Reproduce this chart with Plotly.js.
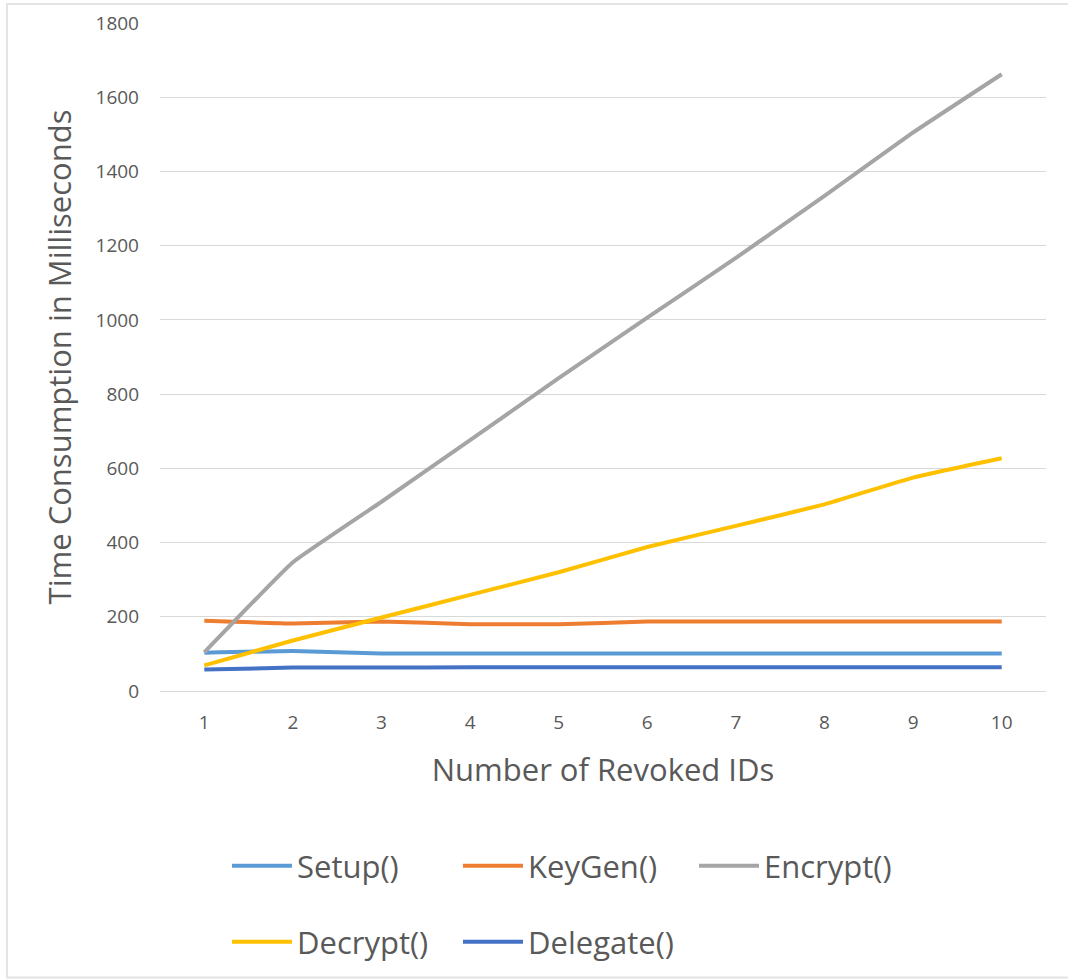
<!DOCTYPE html>
<html>
<head>
<meta charset="utf-8">
<script src="https://cdn.plot.ly/plotly-3.0.1.min.js"></script>
<style>
  html, body { margin: 0; padding: 0; background: #ffffff; }
  #chart { width: 1068px; height: 980px; }
</style>
</head>
<body>
<div id="chart"></div>
<script>
// ---- data ----
const revokedIds = ['1', '2', '3', '4', '5', '6', '7', '8', '9', '10'];
const setupMs    = [103, 108, 101, 101, 101, 101, 101, 101, 101, 101];
const keyGenMs   = [189, 182, 187, 180, 180, 187, 187, 187, 187, 187];
const encryptMs  = [104, 347, 510, 676, 843, 1006, 1167, 1334, 1505, 1662];
const decryptMs  = [69, 136, 198, 259, 320, 388, 445, 503, 575, 627];
const delegateMs = [58, 63, 63, 64, 64, 64, 64, 64, 64, 64];
const seriesNames = ['Setup()', 'KeyGen()', 'Encrypt()', 'Decrypt()', 'Delegate()'];
const yTickVals = [0, 200, 400, 600, 800, 1000, 1200, 1400, 1600, 1800];

// ---- styling ----
const colors = ['#5B9BD5', '#ED7D31', '#A5A5A5', '#FFC000', '#4472C4'];
const seriesValues = [setupMs, keyGenMs, encryptMs, decryptMs, delegateMs];
const legendIds = ['legend', 'legend2', 'legend3', 'legend4', 'legend5'];
const textColor = '#595959';
const FONT = 'Open Sans, Arial, sans-serif';

const traces = seriesNames.map((name, i) => ({
  type: 'scatter',
  mode: 'lines',
  name: name,
  x: revokedIds,
  y: seriesValues[i],
  line: { color: colors[i], width: 4, shape: 'spline', smoothing: 0.3 },
  legend: legendIds[i],
  hoverinfo: 'x+y+name'
}));

// plot area geometry in px (for placing legends)
const plotL = 160, plotR = 1046, plotT = 23, plotB = 692;
const pw = plotR - plotL, ph = plotB - plotT;
const px2x = p => (p - plotL) / pw;
const py2y = p => (plotB - p) / ph;

const legendPos = [
  [227, 866], [458, 866], [694, 866],
  [227, 942], [458, 942]
];

const layout = {
  width: 1068,
  height: 980,
  paper_bgcolor: '#ffffff',
  plot_bgcolor: '#ffffff',
  margin: { l: plotL, r: 1068 - plotR, t: plotT, b: 980 - plotB, pad: 0 },
  font: { family: FONT, color: textColor },
  showlegend: true,
  xaxis: {
    type: 'category',
    range: [-0.5, revokedIds.length - 0.5],
    showgrid: false,
    zeroline: false,
    showline: false,
    ticks: '',
    ticklabelstandoff: 18,
    tickfont: { family: FONT, size: 19, color: textColor },
    title: { text: 'Number of Revoked IDs', font: { family: FONT, size: 31, color: textColor }, standoff: 25 }
  },
  yaxis: {
    range: [0, 1800],
    tickvals: yTickVals,
    ticktext: yTickVals.map(String),
    showgrid: true,
    gridcolor: '#d9d9d9',
    gridwidth: 1.3,
    zeroline: true,
    zerolinecolor: '#d9d9d9',
    zerolinewidth: 1.3,
    showline: false,
    ticks: '',
    ticklabelstandoff: 20,
    tickfont: { family: FONT, size: 19, color: textColor },
    title: { text: 'Time Consumption in Milliseconds', font: { family: FONT, size: 31, color: textColor }, standoff: 14 }
  },
  shapes: [{
    type: 'rect', xref: 'paper', yref: 'paper', layer: 'below',
    x0: px2x(7), x1: px2x(1075), y0: py2y(979), y1: py2y(4),
    line: { color: '#e3e3e3', width: 2 }, fillcolor: 'rgba(0,0,0,0)'
  }]
};

legendIds.forEach((id, i) => {
  layout[id] = {
    orientation: 'h',
    x: px2x(legendPos[i][0]),
    y: py2y(legendPos[i][1]),
    xanchor: 'left',
    yanchor: 'middle',
    bgcolor: 'rgba(0,0,0,0)',
    borderwidth: 0,
    itemwidth: 60,
    font: { family: FONT, size: 31, color: textColor }
  };
});

Plotly.newPlot('chart', traces, layout, { displayModeBar: false, responsive: false });
</script>
</body>
</html>
